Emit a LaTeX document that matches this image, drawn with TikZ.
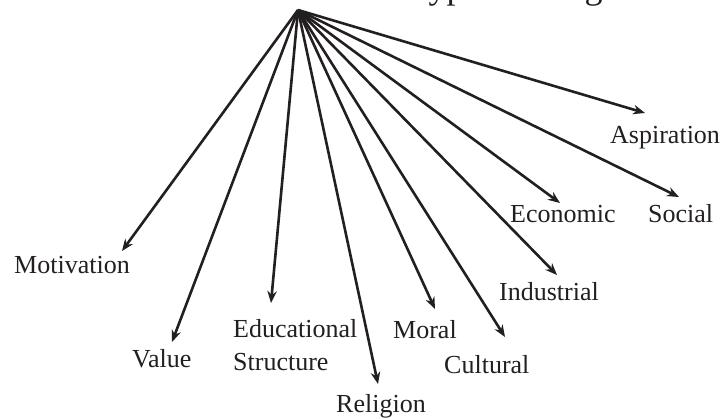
\documentclass[tikz,border=0pt]{standalone}
\usepackage{fontspec}
\setmainfont{Liberation Serif}
\usetikzlibrary{arrows.meta}
\definecolor{ink}{HTML}{231F20}
\begin{document}
\begin{tikzpicture}[x=1pt,y=-1pt,
  conn/.style={draw=ink, line width=2.6pt, -{Stealth[length=12pt,width=9.5pt,inset=4pt]}},
  lbl/.style={font=\fontsize{26}{33}\selectfont, text=ink, inner sep=0pt, anchor=base west}]
\useasboundingbox (0,0) rectangle (720,418);
\node[font=\fontsize{36}{40}\selectfont, text=ink, inner sep=0pt, anchor=base west] (title) at (409,-2) {Types of Migration};
\coordinate (hub) at (298,10);
% labels
\node[lbl] (motivation) at (14,273) {Motivation};
\node[lbl] (value) at (132,367) {Value};
\node[lbl, anchor=west, align=left] (educational) at (233,345) {Educational\\Structure};
\node[lbl] (religion) at (336,412) {Religion};
\node[lbl] (moral) at (393,338) {Moral};
\node[lbl] (cultural) at (444,373) {Cultural};
\node[lbl] (industrial) at (499,300) {Industrial};
\node[lbl] (economic) at (510,222) {Economic};
\node[lbl] (social) at (648,222) {Social};
\node[lbl] (aspiration) at (610,143) {Aspiration};
% arrow tips
\coordinate (tMotivation) at (122,251);
\coordinate (tValue) at (172,342);
\coordinate (tEducational) at (271,303);
\coordinate (tReligion) at (378,384);
\coordinate (tMoral) at (435,309);
\coordinate (tCultural) at (505,337);
\coordinate (tIndustrial) at (557,275);
\coordinate (tEconomic) at (560,203);
\coordinate (tSocial) at (679,197);
\coordinate (tAspiration) at (645,113);
\foreach \t in {Motivation,Value,Educational,Religion,Moral,Cultural,Industrial,Economic,Social,Aspiration}
  \draw[conn] (hub) -- (t\t);
\end{tikzpicture}
\end{document}
